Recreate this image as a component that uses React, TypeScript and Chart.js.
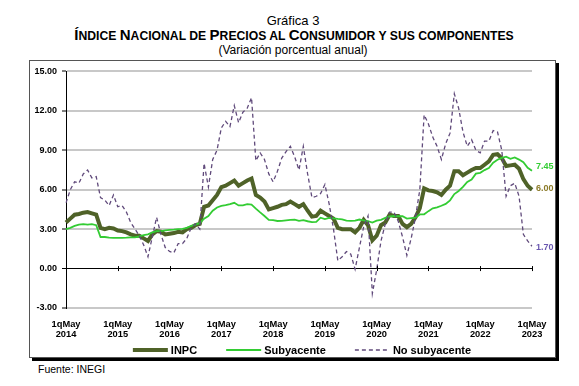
import React, { useEffect, useRef } from "react";
import { Chart, registerables } from "chart.js";

Chart.register(...registerables);

// ---------- DATA ----------
const X_TICK_PREFIX = "1qMay";
const X_TICK_YEARS = ["2014", "2015", "2016", "2017", "2018", "2019", "2020", "2021", "2022", "2023"];
const MONTH_NAMES = ["Ene", "Feb", "Mar", "Abr", "May", "Jun", "Jul", "Ago", "Sep", "Oct", "Nov", "Dic"];

// Monthly categories, May 2014 .. May 2023
const CATEGORIES: string[] = [];
for (let i = 0; i <= 108; i++) {
  const m = (4 + i) % 12;
  const y = 2014 + Math.floor((4 + i) / 12);
  CATEGORIES.push(`${MONTH_NAMES[m]} ${y}`);
}

const INPC = [
  3.5, 3.8, 4.1, 4.15, 4.25, 4.3, 4.2, 4.1, 3.1, 3.0, 3.1, 3.05,
  2.9, 2.85, 2.75, 2.6, 2.5, 2.5, 2.3, 2.1, 2.6, 2.85, 2.8, 2.6,
  2.65, 2.7, 2.8, 2.75, 3.0, 3.1, 3.3, 3.4, 4.7, 4.8, 5.2, 5.6,
  6.2, 6.3, 6.5, 6.7, 6.3, 6.5, 6.7, 6.85, 5.6, 5.4, 5.1, 4.5,
  4.6, 4.7, 4.85, 4.9, 5.1, 4.9, 4.7, 4.9, 4.4, 3.95, 4.0, 4.4,
  4.2, 4.0, 3.8, 3.1, 3.0, 3.0, 3.0, 2.75, 3.1, 3.7, 3.3, 2.15,
  2.5, 3.3, 3.5, 4.1, 4.0, 4.0, 3.4, 3.15, 3.4, 3.9, 4.6, 6.1,
  5.95, 5.9, 5.8, 5.6, 6.0, 6.3, 7.4, 7.4, 7.1, 7.3, 7.5, 7.65,
  7.65, 7.9, 8.15, 8.65, 8.7, 8.4, 7.8, 7.85, 7.9, 7.6, 6.8, 6.3,
  6.0,
];

const SUBYACENTE = [
  3.0, 3.1, 3.25, 3.35, 3.38, 3.35, 3.38, 3.3, 2.4, 2.4, 2.35, 2.33,
  2.33, 2.33, 2.35, 2.38, 2.38, 2.45, 2.55, 2.6, 2.75, 2.85, 2.85, 2.9,
  2.95, 2.97, 3.0, 3.02, 3.1, 3.25, 3.35, 3.45, 3.8, 4.0, 4.4, 4.65,
  4.77, 4.82, 4.9, 5.0, 4.8, 4.8, 4.9, 4.87, 4.56, 4.27, 4.0, 3.7,
  3.69, 3.62, 3.63, 3.67, 3.7, 3.73, 3.63, 3.68, 3.6, 3.54, 3.55, 3.87,
  3.77, 3.85, 3.82, 3.78, 3.75, 3.65, 3.63, 3.65, 3.73, 3.66, 3.6, 3.5,
  3.64, 3.71, 3.85, 3.97, 4.0, 3.98, 3.98, 3.8, 3.84, 3.87, 4.12, 4.13,
  4.37, 4.58, 4.66, 4.78, 4.92, 5.19, 5.67, 5.9, 6.21, 6.59, 6.78, 7.22,
  7.28, 7.49, 7.65, 8.05, 8.28, 8.42, 8.51, 8.35, 8.45, 8.29, 8.09, 7.67,
  7.45,
];

const NO_SUBYACENTE = [
  5.0, 6.0, 6.6, 6.5, 7.2, 7.5, 6.9, 7.0, 5.4, 5.2, 4.8, 5.6,
  4.7, 4.8, 4.3, 3.5, 3.0, 2.5, 1.8, 0.9, 2.4, 3.9, 2.6, 1.6,
  1.3, 1.2, 1.9, 1.9, 2.3, 3.1, 3.4, 3.0, 8.0, 6.2, 8.3, 9.0,
  10.7, 11.2, 10.8, 12.4, 11.1, 11.9, 12.2, 13.0, 8.2, 8.8, 8.3, 7.2,
  6.6, 7.4, 8.4, 8.9, 9.3, 8.5, 7.5, 9.3, 7.2, 5.4, 5.5, 5.7,
  6.4, 4.9, 3.0, 0.6, 0.9, 1.3, 1.1, -0.05, 1.6, 3.2, 4.0, -1.9,
  -0.1, 2.1, 3.4, 4.3, 4.3, 3.6, 2.4, 1.0, 2.3, 3.9, 6.0, 11.7,
  11.0, 10.0, 9.3, 8.3, 9.5, 10.3, 13.3, 12.2, 10.4, 9.3, 9.8, 9.0,
  8.8, 9.7, 9.7, 10.5, 10.4, 9.0, 5.5, 6.3, 6.5, 5.5, 2.6, 2.1,
  1.7,
];

const SERIES_NAMES = ["INPC", "Subyacente", "No subyacente"];
const Y_MIN = -3;
const Y_MAX = 15;
const Y_STEP = 3;

// ---------- STYLE ----------
const FONT = "'Liberation Sans', Arial, Helvetica, sans-serif";
const COLORS = ["#4F6228", "#33CC33", "#604A7B"];
const LABEL_COLORS = ["#8B7A28", "#33CC33", "#6A58B0"];
const LABEL_OFFSETS = [-1, -4, 1];

// Title pieces: [text, isLargeCap]
const SUBTITLE_PARTS: [string, boolean][] = [
  ["Í", true], ["NDICE ", false], ["N", true], ["ACIONAL DE ", false], ["P", true],
  ["RECIOS AL ", false], ["C", true], ["ONSUMIDOR Y SUS COMPONENTES", false],
];

const overlayPlugin = {
  id: "overlay",
  afterDatasetsDraw(chart: any) {
    const { ctx, scales } = chart;
    const xs = scales.x;
    const ys = scales.y;
    const y0 = ys.getPixelForValue(0);
    ctx.save();
    ctx.strokeStyle = "#000";
    ctx.lineWidth = 1;
    CATEGORIES.forEach((c, i) => {
      if (c.startsWith("May")) {
        const px = Math.round(xs.getPixelForValue(i)) + 0.5;
        ctx.beginPath();
        ctx.moveTo(px, y0 - 2.5);
        ctx.lineTo(px, y0 + 2.5);
        ctx.stroke();
      }
    });
    ctx.font = `bold 9px ${FONT}`;
    ctx.textAlign = "left";
    ctx.textBaseline = "middle";
    chart.data.datasets.forEach((ds: any, di: number) => {
      const vals = ds.data as number[];
      const last = vals[vals.length - 1];
      const px = xs.getPixelForValue(vals.length - 1);
      const py = ys.getPixelForValue(last);
      ctx.fillStyle = LABEL_COLORS[di];
      ctx.fillText(last.toFixed(2), px + 4, py + LABEL_OFFSETS[di]);
    });
    ctx.restore();
  },
  afterDraw(chart: any) {
    const { ctx, chartArea } = chart;
    ctx.save();
    ctx.font = `bold 11px ${FONT}`;
    ctx.textBaseline = "middle";
    ctx.textAlign = "left";
    const lineLen = 35;
    const gapText = 3;
    const gapItem = 29;
    const dsets = chart.data.datasets;
    const widths = dsets.map((d: any) => ctx.measureText(d.label).width);
    const total =
      widths.reduce((a: number, b: number) => a + b, 0) +
      dsets.length * (lineLen + gapText) +
      (dsets.length - 1) * gapItem;
    let x = (chartArea.left + chartArea.right) / 2 + 3 - total / 2;
    const y = chartArea.bottom + 42;
    dsets.forEach((d: any, i: number) => {
      ctx.strokeStyle = d.borderColor;
      ctx.lineWidth = d.borderWidth;
      ctx.setLineDash(d.borderDash || []);
      ctx.beginPath();
      ctx.moveTo(x, y);
      ctx.lineTo(x + lineLen, y);
      ctx.stroke();
      ctx.setLineDash([]);
      x += lineLen + gapText;
      ctx.fillStyle = "#000";
      ctx.fillText(d.label, x, y + 0.5);
      x += widths[i] + gapItem;
    });
    ctx.restore();
  },
};

export default function App() {
  const ref = useRef<HTMLCanvasElement | null>(null);

  useEffect(() => {
    if (!ref.current) return;
    const chart = new Chart(ref.current, {
      type: "line",
      data: {
        labels: CATEGORIES,
        datasets: [
          {
            label: SERIES_NAMES[0],
            data: INPC,
            borderColor: COLORS[0],
            backgroundColor: COLORS[0],
            borderWidth: 4,
            pointRadius: 0,
            tension: 0,
            order: 3,
          },
          {
            label: SERIES_NAMES[1],
            data: SUBYACENTE,
            borderColor: COLORS[1],
            backgroundColor: COLORS[1],
            borderWidth: 1.8,
            pointRadius: 0,
            tension: 0,
            order: 2,
          },
          {
            label: SERIES_NAMES[2],
            data: NO_SUBYACENTE,
            borderColor: COLORS[2],
            backgroundColor: COLORS[2],
            borderWidth: 1.3,
            borderDash: [4, 3],
            pointRadius: 0,
            tension: 0,
            order: 1,
          },
        ],
      },
      options: {
        animation: false,
        responsive: false,
        layout: { padding: { top: 8, right: 24, bottom: 10, left: 0 } },
        plugins: {
          legend: { display: false },
          tooltip: { enabled: false },
          title: { display: false },
        },
        scales: {
          x: {
            type: "category",
            offset: false,
            grid: { display: false },
            border: { display: false },
            afterFit: (s: any) => {
              s.height = 38;
            },
            ticks: {
              autoSkip: false,
              maxRotation: 0,
              minRotation: 0,
              padding: 3,
              color: "#000",
              font: { family: FONT, size: 9.3, weight: "bold", lineHeight: 1.12 },
              callback: (_v: any, i: number) => {
                const c = CATEGORIES[i];
                if (!c.startsWith("May")) return null;
                const yr = c.split(" ")[1];
                return X_TICK_YEARS.includes(yr) ? [X_TICK_PREFIX, yr] : null;
              },
            },
          },
          y: {
            min: Y_MIN,
            max: Y_MAX,
            afterFit: (s: any) => {
              s.width = 36;
            },
            ticks: {
              stepSize: Y_STEP,
              padding: 5,
              color: "#000",
              font: { family: FONT, size: 9, weight: "bold" },
              callback: (v: any) => Number(v).toFixed(2),
            },
            grid: {
              color: (c: any) => (c.tick && c.tick.value === 0 ? "#000" : "#C8C8C8"),
              lineWidth: (c: any) => (c.tick && c.tick.value === 0 ? 1 : 2),
              tickColor: "#000",
              tickWidth: 1,
              tickLength: 4,
              drawTicks: true,
            },
            border: { display: true, color: "#000", width: 1 },
          },
        },
      },
      plugins: [overlayPlugin],
    } as any);
    return () => chart.destroy();
  }, []);

  return (
    <div style={{ position: "absolute", left: 0, top: 0, width: 579, height: 386, background: "#fff", fontFamily: FONT, color: "#000" }}>
      <div style={{ position: "absolute", left: 0, width: 586, top: 13, textAlign: "center", fontSize: 13, lineHeight: "15px" }}>
        Gráfica 3
      </div>
      <div style={{ position: "absolute", left: 0, width: 588, top: 27, textAlign: "center", lineHeight: "15px", fontWeight: "bold", whiteSpace: "nowrap" }}>
        {SUBTITLE_PARTS.map(([t, big], i) => (
          <span key={i} style={{ fontSize: big ? 15 : 12.2 }}>{t}</span>
        ))}
      </div>
      <div style={{ position: "absolute", left: 0, width: 586, top: 42.5, textAlign: "center", fontSize: 12, lineHeight: "15px" }}>
        (Variación porcentual anual)
      </div>
      <div style={{ position: "absolute", left: 29, top: 60, width: 527, height: 298, boxSizing: "border-box", border: "1px solid #555", boxShadow: "3px 3px 0 #000" }} />
      <canvas ref={ref} width={526} height={295} style={{ position: "absolute", left: 30, top: 61, width: 526, height: 295 }} />
      <div style={{ position: "absolute", left: 38, top: 363, fontSize: 10.5, lineHeight: "12px" }}>Fuente: INEGI</div>
    </div>
  );
}
